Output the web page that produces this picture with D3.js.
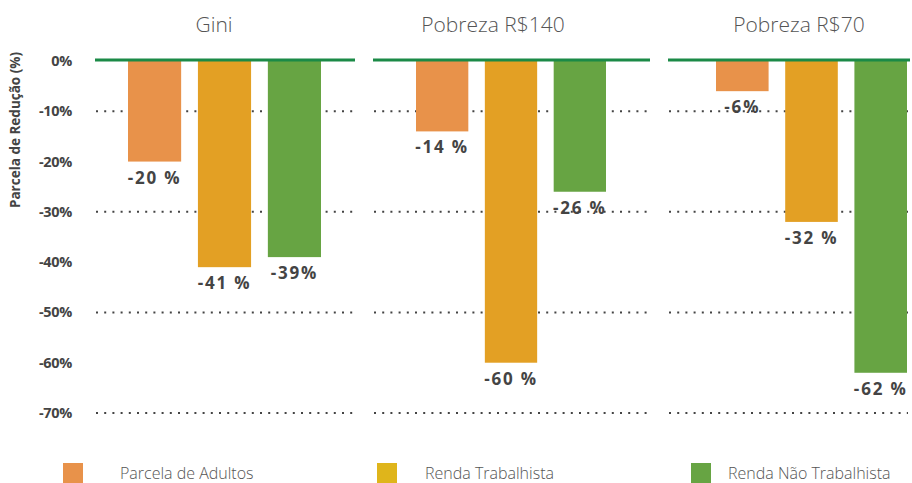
<!DOCTYPE html>
<html>
<head>
<meta charset="utf-8">
<script src="https://cdn.jsdelivr.net/npm/d3@7"></script>
<style>
  html, body { margin: 0; padding: 0; background: #fff; }
  svg { display: block; font-family: "Open Sans", "Lato", sans-serif; }
</style>
</head>
<body>
<div id="chart"></div>
<script>
// data
var panels = ["Gini", "Pobreza R$140", "Pobreza R$70"]
var series = ["Parcela de Adultos", "Renda Trabalhista", "Renda Não Trabalhista"]
var parcelaAdultos = [-20, -14, -6]
var rendaTrabalhista = [-41, -60, -32]
var rendaNaoTrabalhista = [-39, -26, -62]
var parcelaAdultosLabels = ["-20 %", "-14 %", "-6%"]
var rendaTrabalhistaLabels = ["-41 %", "-60 %", "-32 %"]
var rendaNaoTrabalhistaLabels = ["-39%", "-26 %", "-62 %"]
var yTicks = [0, -10, -20, -30, -40, -50, -60, -70]
var gridTicks = [-10, -30, -50, -70]

var seriesValues = [parcelaAdultos, rendaTrabalhista, rendaNaoTrabalhista]
var seriesLabels = [parcelaAdultosLabels, rendaTrabalhistaLabels, rendaNaoTrabalhistaLabels]

// layout
var W = 912, H = 483
var BAR_COLORS = ["#E8924A", "#E3A024", "#67A443"]
var LEGEND_COLORS = ["#E8924A", "#DFB51B", "#67A443"]
var PANEL_X = [[95, 355], [373, 650], [668, 910]]
var BAR_X = [[128, 321], [416, 606], [716, 907]]
var TITLE_X = [214, 493, 799]

var svg = d3.select("#chart").append("svg")
  .attr("width", W).attr("height", H)

var y = d3.scaleLinear().domain([0, -70]).range([61, 413])

// y axis labels
svg.append("g")
  .selectAll("text")
  .data(yTicks)
  .enter().append("text")
  .attr("x", 72)
  .attr("y", d => y(d) + 5)
  .attr("text-anchor", "end")
  .attr("font-size", 14.5)
  .attr("font-weight", 700)
  .attr("letter-spacing", -0.3)
  .attr("fill", "#444")
  .text(d => d + "%")

svg.append("text")
  .attr("transform", "translate(20,130) rotate(-90)")
  .attr("text-anchor", "middle")
  .attr("font-size", 13.5)
  .attr("font-weight", 700)
  .attr("fill", "#444")
  .text("Parcela de Redução (%)")

panels.forEach(function(name, p) {
  var g = svg.append("g")
  var x = d3.scaleBand()
    .domain(series)
    .range(BAR_X[p])
    .paddingInner(0.24)
    .paddingOuter(0)

  var rows = series.map((s, i) => ({ s: s, i: i, v: seriesValues[i][p], label: seriesLabels[i][p] }))

  // dotted gridlines
  g.selectAll(".grid")
    .data(gridTicks)
    .enter().append("line")
    .attr("class", "grid")
    .attr("x1", PANEL_X[p][0] + 1)
    .attr("x2", PANEL_X[p][1] - 2)
    .attr("y1", d => y(d))
    .attr("y2", d => y(d))
    .attr("stroke", "#444")
    .attr("stroke-width", 2)
    .attr("stroke-dasharray", "2 6.2")

  g.selectAll(".bar")
    .data(rows)
    .enter().append("rect")
    .attr("class", "bar")
    .attr("x", d => x(d.s))
    .attr("width", x.bandwidth())
    .attr("y", y(0))
    .attr("height", d => y(d.v) - y(0))
    .attr("fill", d => BAR_COLORS[d.i])

  // zero line
  g.append("line")
    .attr("x1", PANEL_X[p][0]).attr("x2", PANEL_X[p][1])
    .attr("y1", y(0) - 1).attr("y2", y(0) - 1)
    .attr("stroke", "#1B8A47")
    .attr("stroke-width", 3)

  g.selectAll(".val")
    .data(rows)
    .enter().append("text")
    .attr("class", "val")
    .attr("x", d => x(d.s) + x.bandwidth() / 2)
    .attr("y", d => y(d.v) + 22)
    .attr("text-anchor", "middle")
    .attr("font-size", 17)
    .attr("font-weight", 700)
    .attr("letter-spacing", 1.8)
    .attr("fill", "#444")
    .text(d => d.label)

  g.append("text")
    .attr("x", TITLE_X[p])
    .attr("y", 32)
    .attr("text-anchor", "middle")
    .attr("font-size", 21)
    .attr("font-weight", 300)
    .attr("fill", "#555")
    .text(name)
})

// legend
var LEGEND_X = [63, 377, 691]
var legend = svg.append("g")
  .selectAll("g")
  .data(series)
  .enter().append("g")
  .attr("transform", (d, i) => `translate(${LEGEND_X[i]},463)`)

legend.append("rect")
  .attr("width", 20).attr("height", 20)
  .attr("fill", (d, i) => LEGEND_COLORS[i])

legend.append("text")
  .attr("x", (d, i) => i === 0 ? 57 : i === 1 ? 48 : 37)
  .attr("y", 16)
  .attr("font-size", 16)
  .attr("font-weight", 300)
  .attr("fill", "#555")
  .text(d => d)
</script>
</body>
</html>
